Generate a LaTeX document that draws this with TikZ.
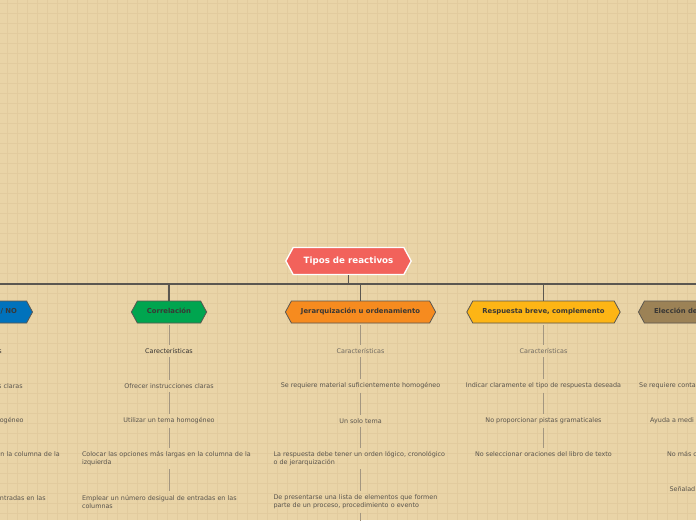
\documentclass[tikz,border=0pt]{standalone}
\usepackage{fontspec}
\setmainfont{DejaVu Sans}
\usetikzlibrary{shapes.symbols}
\definecolor{bg}{HTML}{E9D4A7}
\definecolor{gridc}{HTML}{E2CB9E}
\definecolor{rootc}{HTML}{F2625B}
\definecolor{greenc}{HTML}{00A54F}
\definecolor{orangec}{HTML}{F68B1F}
\definecolor{yellowc}{HTML}{FDB515}
\definecolor{bluec}{HTML}{0072BC}
\definecolor{brownc}{HTML}{9C8256}
\definecolor{edgec}{HTML}{5B5750}
\definecolor{subc}{HTML}{A39680}
\definecolor{itemc}{HTML}{59544C}
\definecolor{caracc}{HTML}{6E685F}
\definecolor{darkc}{HTML}{333130}
\definecolor{titlec}{HTML}{3A3835}
\begin{document}
\begin{tikzpicture}[x=1pt,y=-1pt,
  hexbox/.style={shape=signal, signal to=east and west, signal pointer angle=123,
    draw=edgec, line width=0.8pt, minimum height=22pt, inner xsep=9.6pt, inner ysep=0pt,
    text height=4.9pt, text depth=1.3pt, text=titlec,
    font=\fontsize{6.85}{8}\selectfont\bfseries},
  rootbox/.style={shape=signal, signal to=east and west, signal pointer angle=123,
    draw=white, line width=1.3pt, fill=rootc, minimum height=27pt, inner xsep=10.5pt,
    inner ysep=0pt, text height=6.3pt, text depth=1.8pt, text=white,
    font=\fontsize{8.7}{10}\selectfont\bfseries},
  item/.style={text=itemc, font=\fontsize{6.4}{8}\selectfont, inner xsep=2pt,
    inner ysep=3.5pt, align=center},
  longitem/.style={item, text width=174pt, align=left},
  carac/.style={item, text=caracc},
  caracdark/.style={item, text=darkc},
  bus/.style={draw=edgec, line width=1.6pt},
  sub/.style={draw=subc, line width=0.9pt},
  gridline/.style={draw=gridc, line width=0.7pt}]
\useasboundingbox (0,0) rectangle (696,520);
\clip (0,0) rectangle (696,520);
\fill[bg] (0,0) rectangle (696,520);
\foreach \x in {7,17,...,697} \draw[gridline] (\x,0) -- (\x,520);
\foreach \y in {3,13,...,523} \draw[gridline] (0,\y) -- (696,\y);

% root and main branches
\node[rootbox] (root) at (348.5,261) {Tipos de reactivos};
\node[hexbox, fill=bluec, text width=150pt, align=right, anchor=east] (vf) at (33,312) {/ NO};
\node[hexbox, fill=greenc] (cor) at (169,312) {Correlación};
\node[hexbox, fill=orangec] (jer) at (360.5,312) {Jerarquización u ordenamiento};
\node[hexbox, fill=yellowc] (res) at (543.5,312) {Respuesta breve, complemento};
\node[hexbox, fill=brownc, text width=170pt, align=left, anchor=west] (ele) at (638,312) {Elección de};

\path (root.south) ++(0,9) coordinate (hub);
\draw[bus] (root.south) -- (hub);
\foreach \n in {vf,cor,jer,res,ele} \draw[bus] (hub) -| (\n.north);

% left (blue) column
\node[caracdark] (v1) at (-22,351) {Carecterísticas};
\node[item] (v2) at (-22,385.7) {Ofrecer instrucciones claras};
\node[item] (v3) at (-22,420.7) {Utilizar un tema homogéneo};
\node[longitem] (v4) at (-22,458.5) {Colocar las opciones más largas en la columna de la\\izquierda};
\node[longitem] (v5) at (-22,501.7) {Emplear un número desigual de entradas en las\\columnas};

% Correlación column
\node[caracdark] (c1) at (169,351) {Carecterísticas};
\node[item] (c2) at (169,385.7) {Ofrecer instrucciones claras};
\node[item] (c3) at (169,420.7) {Utilizar un tema homogéneo};
\node[longitem] (c4) at (169,458.5) {Colocar las opciones más largas en la columna de la\\izquierda};
\node[longitem] (c5) at (169,501.7) {Emplear un número desigual de entradas en las\\columnas};
\draw[sub, shorten <=2pt] (cor.south) -- (c1);
\draw[sub] (c1) -- (c2);
\draw[sub] (c2) -- (c3);
\draw[sub] (c3) -- (c4);
\draw[sub] (c4) -- (c5);

% Jerarquización column
\node[carac] (j1) at (360.5,351) {Características};
\node[item] (j2) at (360.5,385.7) {Se requiere material suficientemente homogéneo};
\node[item] (j3) at (360.5,420.7) {Un solo tema};
\node[longitem] (j4) at (360.5,458.5) {La respuesta debe tener un orden lógico, cronológico\\o de jerarquización};
\node[longitem] (j5) at (360.5,501.7) {De presentarse una lista de elementos que formen\\parte de un proceso, procedimiento o evento};
\coordinate (jnext) at (360.5,540);
\draw[sub, shorten <=2pt] (jer.south) -- (j1);
\draw[sub] (j1) -- (j2);
\draw[sub] (j2) -- (j3);
\draw[sub] (j3) -- (j4);
\draw[sub] (j4) -- (j5);
\draw[sub] (j5) -- (jnext);

% Respuesta breve column
\node[carac] (r1) at (543.5,351) {Características};
\node[item] (r2) at (543.5,385.7) {Indicar claramente el tipo de respuesta deseada};
\node[item] (r3) at (543.5,420.7) {No proporcionar pistas gramaticales};
\node[item] (r4) at (543.5,454.3) {No seleccionar oraciones del libro de texto};
\draw[sub, shorten <=2pt] (res.south) -- (r1);
\draw[sub] (r1) -- (r2);
\draw[sub] (r2) -- (r3);
\draw[sub] (r3) -- (r4);

% Elección column (cut by the right edge)
\node[item, anchor=west] (e1) at (637,385.7) {Se requiere conta};
\node[item, anchor=west] (e2) at (648,420.7) {Ayuda a medi};
\node[item, anchor=west] (e3) at (665,454.3) {No más c};
\node[item, anchor=west] (e4) at (667.3,489.3) {Señalad};
\end{tikzpicture}
\end{document}
